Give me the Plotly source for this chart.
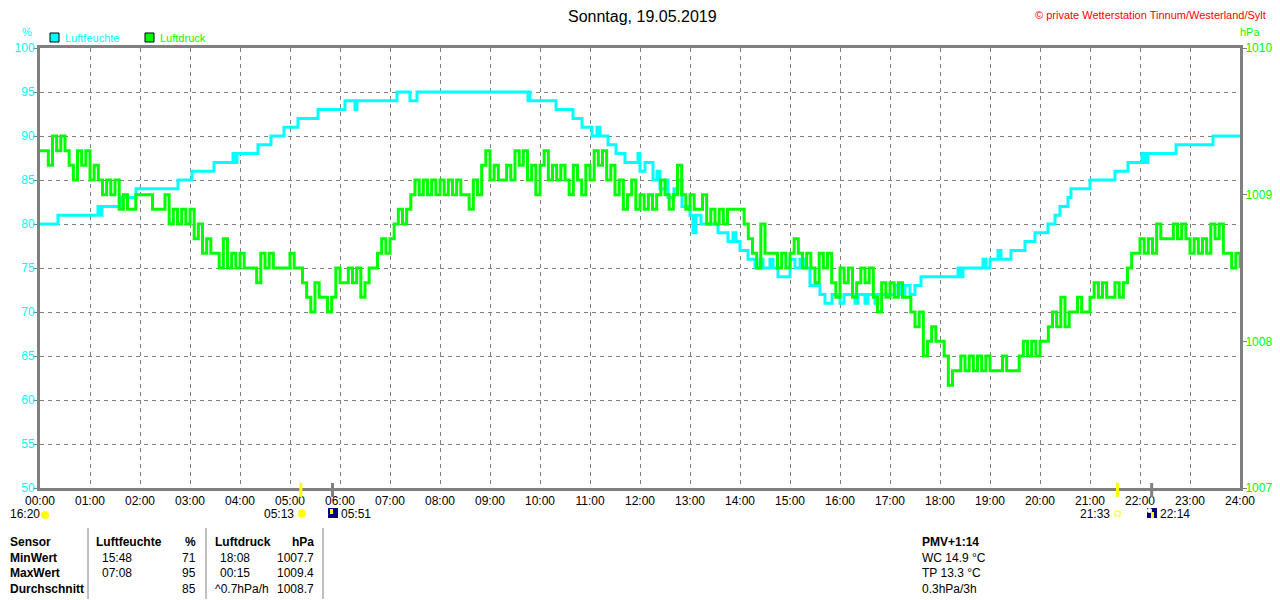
import plotly.graph_objects as go

# Achsenbeschriftung Zeit
hour_ticks = [0, 1, 2, 3, 4, 5, 6, 7, 8, 9, 10, 11, 12, 13, 14, 15, 16, 17, 18, 19, 20, 21, 22, 23, 24]
hour_labels = ['00:00', '01:00', '02:00', '03:00', '04:00', '05:00', '06:00', '07:00', '08:00',
               '09:00', '10:00', '11:00', '12:00', '13:00', '14:00', '15:00', '16:00', '17:00',
               '18:00', '19:00', '20:00', '21:00', '22:00', '23:00', '24:00']

# Luftfeuchte (%) - Zeitpunkt der Aenderung (Stunden) und neuer Wert
hum_hours = [0.00, 0.36, 1.16, 1.20, 1.24, 1.62, 1.92, 2.76, 3.04, 3.48, 3.86, 3.90, 3.94, 4.36,
             4.62, 4.88, 5.16, 5.56, 6.10, 6.30, 6.34, 7.14, 7.40, 7.54, 9.76, 9.78, 9.80, 10.32,
             10.66, 10.84, 11.04, 11.14, 11.20, 11.36, 11.52, 11.70, 11.96, 12.00, 12.10, 12.26,
             12.34, 12.40, 12.52, 12.56, 12.68, 12.76, 12.84, 13.00, 13.06, 13.12, 13.22, 13.56,
             13.76, 13.86, 13.92, 14.00, 14.16, 14.30, 14.40, 14.46, 14.60, 14.66, 14.76, 15.00,
             15.10, 15.20, 15.30, 15.40, 15.60, 15.70, 15.84, 16.00, 16.08, 16.30, 16.36, 16.50,
             16.56, 16.70, 16.76, 17.10, 17.20, 17.30, 17.40, 17.50, 17.62, 18.36, 18.40, 18.46,
             18.86, 18.92, 19.00, 19.16, 19.22, 19.42, 19.70, 19.90, 20.16, 20.30, 20.40, 20.56,
             20.62, 21.00, 21.50, 21.76, 22.04, 22.10, 22.16, 22.72, 23.46, 24.00]
hum_values = [80, 81, 82, 81, 82, 83, 84, 85, 86, 87, 88, 87, 88, 89,
              90, 91, 92, 93, 94, 93, 94, 95, 94, 95, 94, 95, 94, 93,
              92, 91, 90, 91, 90, 89, 88, 87, 88, 86, 87, 85,
              86, 84, 85, 83, 84, 85, 82, 81, 79, 81, 80, 79,
              78, 79, 78, 77, 76, 75, 76, 75, 76, 75, 74, 76,
              75, 76, 75, 73, 72, 71, 72, 71, 72, 71, 72, 71,
              72, 71, 72, 73, 72, 73, 72, 73, 74, 75, 74, 75,
              76, 75, 76, 77, 76, 77, 78, 79, 80, 81, 82, 83,
              84, 85, 86, 87, 88, 87, 88, 89, 90, 90]

# Luftdruck (hPa) alle 5 Minuten, 00:00 bis 24:00
press_step_min = 5
pressure = [
    1009.3, 1009.3, 1009.2, 1009.4, 1009.3, 1009.4, 1009.3, 1009.2, 1009.1, 1009.3, 1009.2, 1009.3,  # 00
    1009.1, 1009.2, 1009.1, 1009.0, 1009.1, 1009.0, 1009.1, 1008.9, 1009.0, 1008.9, 1008.9, 1009.0,  # 01
    1009.0, 1009.0, 1009.0, 1008.9, 1008.9, 1008.9, 1009.0, 1008.8, 1008.9, 1008.8, 1008.9, 1008.8,  # 02
    1008.9, 1008.7, 1008.8, 1008.6, 1008.7, 1008.6, 1008.6, 1008.5, 1008.7, 1008.5, 1008.6, 1008.5,  # 03
    1008.6, 1008.5, 1008.5, 1008.5, 1008.4, 1008.6, 1008.5, 1008.6, 1008.5, 1008.5, 1008.5, 1008.5,  # 04
    1008.6, 1008.5, 1008.5, 1008.4, 1008.3, 1008.2, 1008.4, 1008.3, 1008.3, 1008.2, 1008.3, 1008.5,  # 05
    1008.4, 1008.4, 1008.5, 1008.4, 1008.5, 1008.3, 1008.4, 1008.5, 1008.5, 1008.6, 1008.7, 1008.6,  # 06
    1008.7, 1008.8, 1008.9, 1008.8, 1008.9, 1009.0, 1009.1, 1009.0, 1009.1, 1009.0, 1009.1, 1009.0,  # 07
    1009.1, 1009.0, 1009.1, 1009.0, 1009.1, 1009.0, 1009.0, 1008.9, 1009.1, 1009.0, 1009.2, 1009.3,  # 08
    1009.1, 1009.2, 1009.1, 1009.1, 1009.2, 1009.1, 1009.3, 1009.2, 1009.3, 1009.1, 1009.2, 1009.0,  # 09
    1009.2, 1009.3, 1009.1, 1009.2, 1009.1, 1009.2, 1009.1, 1009.0, 1009.2, 1009.1, 1009.0, 1009.2,  # 10
    1009.1, 1009.3, 1009.2, 1009.3, 1009.1, 1009.2, 1009.0, 1009.1, 1008.9, 1009.0, 1009.1, 1008.9,  # 11
    1009.0, 1008.9, 1009.0, 1008.9, 1009.0, 1009.1, 1009.0, 1008.9, 1009.0, 1009.2, 1009.0, 1008.9,  # 12
    1009.0, 1008.9, 1008.9, 1009.0, 1008.8, 1008.9, 1008.8, 1008.9, 1008.8, 1008.9, 1008.9, 1008.9,  # 13
    1008.9, 1008.8, 1008.7, 1008.6, 1008.5, 1008.8, 1008.6, 1008.6, 1008.6, 1008.5, 1008.6, 1008.5,  # 14
    1008.6, 1008.7, 1008.6, 1008.5, 1008.6, 1008.5, 1008.4, 1008.6, 1008.5, 1008.6, 1008.4, 1008.3,  # 15
    1008.5, 1008.4, 1008.5, 1008.3, 1008.4, 1008.5, 1008.4, 1008.5, 1008.3, 1008.2, 1008.4, 1008.3,  # 16
    1008.4, 1008.3, 1008.4, 1008.3, 1008.3, 1008.2, 1008.1, 1008.2, 1007.9, 1008.0, 1008.1, 1008.0,  # 17
    1008.0, 1007.9, 1007.7, 1007.8, 1007.8, 1007.9, 1007.8, 1007.9, 1007.8, 1007.9, 1007.8, 1007.9,  # 18
    1007.8, 1007.8, 1007.8, 1007.9, 1007.8, 1007.8, 1007.8, 1007.9, 1008.0, 1007.9, 1008.0, 1007.9,  # 19
    1008.0, 1008.0, 1008.1, 1008.2, 1008.1, 1008.3, 1008.1, 1008.2, 1008.2, 1008.3, 1008.2, 1008.2,  # 20
    1008.3, 1008.4, 1008.3, 1008.4, 1008.3, 1008.3, 1008.4, 1008.3, 1008.4, 1008.5, 1008.6, 1008.6,  # 21
    1008.7, 1008.6, 1008.7, 1008.6, 1008.8, 1008.7, 1008.7, 1008.7, 1008.8, 1008.7, 1008.8, 1008.7,  # 22
    1008.6, 1008.7, 1008.6, 1008.7, 1008.6, 1008.8, 1008.7, 1008.8, 1008.6, 1008.6, 1008.5, 1008.6,  # 23
    1008.5,
]
press_hours = [i * press_step_min / 60 for i in range(len(pressure))]

# Sonne / Mond Ereignisse
event_hours = [5 + 13 / 60, 5 + 51 / 60, 21 + 33 / 60, 22 + 14 / 60]
event_labels = ['05:13', '05:51', '21:33', '22:14']

# Tabelle unten
table_rows = ['Sensor', 'MinWert', 'MaxWert', 'Durchschnitt']
hum_times = ['Luftfeuchte', '15:48', '07:08', '']
hum_stats = ['%', '71', '95', '85']
press_times = ['Luftdruck', '18:08', '00:15', '^0.7hPa/h']
press_stats = ['hPa', '1007.7', '1009.4', '1008.7']
extra_info = ['PMV+1:14', 'WC 14.9 °C', 'TP 13.3 °C', '0.3hPa/3h']

CYAN = '#00ffff'
GREEN = '#00ff00'
GRAY = '#808080'
FONT = 'Liberation Sans, Arial, sans-serif'


# Seiten-Pixel -> paper Koordinaten (Plotflaeche 40..1240 / 48..488)
def px(x):
    return (x - 40) / 1200


def py(y):
    return (488 - y) / 440


fig = go.Figure()

fig.add_trace(go.Scatter(x=press_hours, y=pressure, mode='lines', name='Luftdruck',
                         line=dict(color=GREEN, width=3, shape='hv'), yaxis='y2'))
fig.add_trace(go.Scatter(x=hum_hours, y=hum_values, mode='lines', name='Luftfeuchte',
                         line=dict(color=CYAN, width=3, shape='hv'), yaxis='y'))

anns = []
shapes = []


def text(x, y, s, color='black', size=12, anchor='left', bold=False):
    if bold:
        s = '<b>' + s + '</b>'
    anns.append(dict(x=px(x), y=py(y), xref='paper', yref='paper', text=s, showarrow=False,
                     xanchor=anchor, yanchor='middle', font=dict(family=FONT, size=size, color=color)))


# Titel und Copyright
text(642, 17, 'Sonntag, 19.05.2019', size=16, anchor='center')
text(1268, 15, '© private Wetterstation Tinnum/Westerland/Sylt', color='#ff0000', size=11, anchor='right')

# Einheiten
text(27, 32, '%', color=CYAN, size=11, anchor='center')
text(1250, 32, 'hPa', color=GREEN, size=11, anchor='center')

# Legende
for x0, col, name in [(50, CYAN, 'Luftfeuchte'), (145, GREEN, 'Luftdruck')]:
    shapes.append(dict(type='rect', xref='paper', yref='paper', x0=px(x0), x1=px(x0 + 9),
                       y0=py(33), y1=py(42), fillcolor=col, line=dict(color='black', width=1)))
    text(x0 + 13, 38, name, color=col, size=11)

# Ereignisse unter der Zeitachse
text(8, 514, '16:20', anchor='left')
shapes.append(dict(type='circle', xref='paper', yref='paper', x0=px(41), x1=px(49),
                   y0=py(511), y1=py(519), fillcolor='#ffff00', line=dict(width=0)))
tick_cols = ['#ffff00', GRAY, '#ffff00', GRAY]
for h, col in zip(event_hours, tick_cols):
    shapes.append(dict(type='line', xref='x', yref='paper', x0=h, x1=h, y0=py(483), y1=py(497),
                       line=dict(color=col, width=3)))
# 05:13 Sonnenaufgang
text(296, 514, event_labels[0], anchor='right')
shapes.append(dict(type='circle', xref='paper', yref='paper', x0=px(298), x1=px(306),
                   y0=py(509), y1=py(518), fillcolor='#ffff00', line=dict(color='#ffffa0', width=1)))
# 05:51 Mond
shapes.append(dict(type='rect', xref='paper', yref='paper', x0=px(328), x1=px(338),
                   y0=py(508), y1=py(518), fillcolor='#000080', line=dict(width=0)))
shapes.append(dict(type='rect', xref='paper', yref='paper', x0=px(330), x1=px(333),
                   y0=py(509), y1=py(514), fillcolor='#ffff00', line=dict(width=0)))
text(339, 514, event_labels[1], anchor='left')
# 21:33 Sonnenuntergang
text(1112, 514, event_labels[2], anchor='right')
shapes.append(dict(type='rect', xref='paper', yref='paper', x0=px(1115), x1=px(1120),
                   y0=py(511), y1=py(516), line=dict(color='#ffff00', width=1)))
# 22:14 Mond
shapes.append(dict(type='rect', xref='paper', yref='paper', x0=px(1147), x1=px(1157),
                   y0=py(508), y1=py(518), fillcolor='#000080', line=dict(width=0)))
shapes.append(dict(type='circle', xref='paper', yref='paper', x0=px(1147), x1=px(1152),
                   y0=py(508), y1=py(513), fillcolor='#ffffff', line=dict(width=0)))
shapes.append(dict(type='rect', xref='paper', yref='paper', x0=px(1151), x1=px(1154),
                   y0=py(512), y1=py(518), fillcolor='#ffff00', line=dict(width=0)))
text(1158, 514, event_labels[3], anchor='left')

# Tabelle
row_y = [542, 558, 573, 589]
for i, y in enumerate(row_y):
    head = i == 0
    text(8, y, table_rows[i], bold=True)
    text(94 if head else 100, y, hum_times[i], bold=head)
    text(198, y, hum_stats[i], anchor='right', bold=head)
    text(213 if (head or i == 3) else 218, y, press_times[i], bold=head)
    text(316, y, press_stats[i], anchor='right', bold=head)
    text(920, y, extra_info[i], bold=head)
for x in [88, 206, 323]:
    shapes.append(dict(type='line', xref='paper', yref='paper', x0=px(x), x1=px(x),
                       y0=py(528), y1=py(599), line=dict(color=GRAY, width=1)))

axis_common = dict(showline=True, linecolor=GRAY, linewidth=3, zeroline=False, automargin=False,
                   gridcolor=GRAY, gridwidth=1, griddash='4px,4px')

# die Seite hat 8px Rand: Grafik 1272x592, um 8px verschoben
fig.update_layout(
    width=1272, height=592,
    margin=dict(l=32, r=40, t=40, b=112, autoexpand=False),
    paper_bgcolor='white', plot_bgcolor='white',
    showlegend=False,
    xaxis=dict(range=[0, 24], tickvals=hour_ticks, ticktext=hour_labels, showgrid=True,
               mirror=True, ticks='', tickfont=dict(family=FONT, size=12, color='black'),
               **axis_common),
    yaxis=dict(range=[50, 100], dtick=5, showgrid=True, mirror=True, ticks='outside', ticklen=4,
               ticklabelstandoff=-4, tickcolor=GRAY,
               tickfont=dict(family=FONT, size=12, color=CYAN), **axis_common),
    yaxis2=dict(range=[1007, 1010], dtick=1, overlaying='y', side='right', showgrid=False,
                showline=True, linecolor=GRAY, linewidth=3, zeroline=False, automargin=False,
                ticks='outside', ticklen=4, ticklabelstandoff=-4, tickcolor=GRAY,
                tickfont=dict(family=FONT, size=12, color=GREEN)),
    annotations=anns,
    shapes=shapes,
)

fig.write_html("out.html")
